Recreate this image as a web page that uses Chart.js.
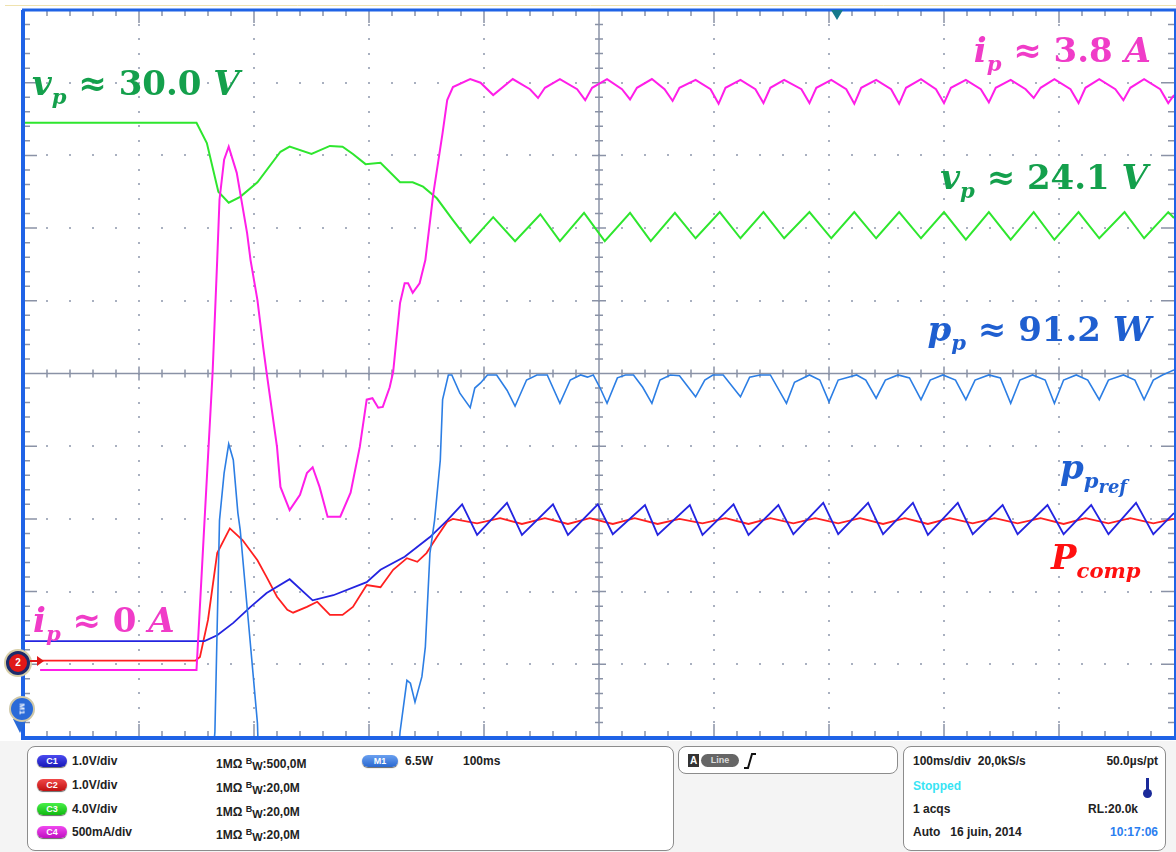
<!DOCTYPE html>
<html>
<head>
<meta charset="utf-8">
<script src="https://cdn.jsdelivr.net/npm/chart.js@4"></script>
<style>
  body { margin: 0; width: 1176px; height: 852px; overflow: hidden; position: relative; background: #fff;
         font-family: "Liberation Sans", Arial, sans-serif; }
  #wrap { position: absolute; left: 0; top: 0; width: 1176px; height: 742px; }
  .lbl { position: absolute; font-family: "DejaVu Serif", serif; font-weight: bold; font-size: 34px;
         white-space: nowrap; line-height: 1; }
  .lbl i { font-style: italic; }
  .lbl sub { font-size: 0.62em; vertical-align: -0.42em; font-style: italic; line-height: 0; }
  .lbl sub sub { font-size: 0.85em; vertical-align: -0.3em; }
  #panel { position: absolute; left: 0; top: 741px; width: 1176px; height: 111px; background: #f4f4f4; }
  .box { position: absolute; border: 1.5px solid #8c8c8c; border-radius: 8px; background: #fff; box-sizing: border-box; }
  .t { position: absolute; font-size: 12px; font-weight: bold; color: #222; white-space: nowrap; line-height: 14px; }
  .badge { position: absolute; height: 12px; border-radius: 6px; color: #fff; font-size: 9px; font-weight: bold;
           text-align: center; line-height: 12px; box-shadow: 0 1px 1px #666; }
  .bw { font-size: 9px; vertical-align: 4px; }
  .bws { font-size: 11px; vertical-align: -2px; }
</style>
</head>
<body>
<div id="wrap"><canvas id="scope"></canvas></div>

<!-- channel annotations -->
<div class="lbl" style="left:32px;top:66px;color:#14a04c"><i>v</i><sub>p</sub> &#8776; 30.0 <i>V</i></div>
<div class="lbl" style="right:25px;top:33px;color:#f03cc8"><i>i</i><sub>p</sub> &#8776; 3.8 <i>A</i></div>
<div class="lbl" style="right:28px;top:160px;color:#14a04c"><i>v</i><sub>p</sub> &#8776; 24.1 <i>V</i></div>
<div class="lbl" style="right:25px;top:312px;color:#1f5fd0"><i>p</i><sub>p</sub> &#8776; 91.2 <i>W</i></div>
<div class="lbl" style="left:1060px;top:450px;color:#1f5fd0"><i>p</i><sub>p<sub>ref</sub></sub></div>
<div class="lbl" style="left:1051px;top:540px;color:#ff1010"><i>P</i><sub>comp</sub></div>
<div class="lbl" style="left:33px;top:603px;color:#f03cc8"><i>i</i><sub>p</sub> &#8776; 0 <i>A</i></div>

<!-- left markers -->
<div style="position:absolute;left:4px;top:649px;width:28px;height:28px;border-radius:50%;background:#d8cfa8"></div>
<div style="position:absolute;left:6px;top:651px;width:18px;height:18px;border-radius:50%;background:#e01818;border:3px solid #1c2c6c;color:#fff;font:bold 10px 'Liberation Sans';text-align:center;line-height:18px">2</div>
<div style="position:absolute;left:30px;top:660px;width:8px;height:2px;background:#e01818"></div>
<div style="position:absolute;left:37px;top:656px;width:0;height:0;border-top:5px solid transparent;border-bottom:5px solid transparent;border-left:7px solid #e01818"></div>
<div style="position:absolute;left:13px;top:719px;width:0;height:0;border-left:7px solid transparent;border-right:7px solid transparent;border-top:14px solid #2a6ad8"></div>
<div style="position:absolute;left:9px;top:696px;width:22px;height:22px;border-radius:50%;background:#2a6ad8;border:2px solid #cfc8a8;color:#fff;font:bold 8px 'Liberation Sans';text-align:center;line-height:22px"><span style="display:inline-block;transform:rotate(90deg)">M1</span></div>
<div style="position:absolute;left:831px;top:10px;width:0;height:0;border-left:6px solid transparent;border-right:6px solid transparent;border-top:10px solid #167a8c"></div>

<!-- status panel -->
<div id="panel"></div>
<div class="box" style="left:27px;top:746px;width:647px;height:105px"></div>
<div class="box" style="left:678px;top:746px;width:220px;height:28px"></div>
<div class="box" style="left:903px;top:746px;width:263px;height:105px"></div>

<div class="badge" style="left:37px;top:755px;width:30px;background:linear-gradient(#4a4af0,#1818b8)">C1</div>
<div class="badge" style="left:37px;top:779px;width:30px;background:linear-gradient(#f04848,#c01010)">C2</div>
<div class="badge" style="left:37px;top:803px;width:30px;background:linear-gradient(#48f048,#10b810)">C3</div>
<div class="badge" style="left:37px;top:826px;width:30px;background:linear-gradient(#f048f0,#c010c0)">C4</div>
<div class="t" style="left:72px;top:754px">1.0V/div</div>
<div class="t" style="left:72px;top:778px">1.0V/div</div>
<div class="t" style="left:72px;top:802px">4.0V/div</div>
<div class="t" style="left:72px;top:825px">500mA/div</div>
<div class="t" style="left:216px;top:754px">1M&#937; <span class="bw">B</span><span class="bws">W</span>:500,0M</div>
<div class="t" style="left:216px;top:778px">1M&#937; <span class="bw">B</span><span class="bws">W</span>:20,0M</div>
<div class="t" style="left:216px;top:802px">1M&#937; <span class="bw">B</span><span class="bws">W</span>:20,0M</div>
<div class="t" style="left:216px;top:825px">1M&#937; <span class="bw">B</span><span class="bws">W</span>:20,0M</div>
<div class="badge" style="left:362px;top:755px;width:36px;background:linear-gradient(#6aa0f0,#2a68d0)">M1</div>
<div class="t" style="left:405px;top:754px">6.5W</div>
<div class="t" style="left:463px;top:754px">100ms</div>

<div style="position:absolute;left:688px;top:754px;width:11px;height:13px;background:#333;color:#fff;font:bold 10px 'Liberation Sans';text-align:center;line-height:13px">A</div>
<div style="position:absolute;left:701px;top:754px;width:38px;height:13px;border-radius:7px;background:#666;color:#ddd;font:bold 9px 'Liberation Sans';text-align:center;line-height:13px">Line</div>
<svg style="position:absolute;left:742px;top:752px" width="16" height="18"><path d="M2 16 L6 16 L10 2 L14 2" stroke="#111" stroke-width="2" fill="none"/></svg>

<div class="t" style="left:913px;top:754px">100ms/div&nbsp; 20,0kS/s</div>
<div class="t" style="right:18px;top:754px">50.0&#181;s/pt</div>
<div class="t" style="left:913px;top:779px;color:#38e4f4">Stopped</div>
<div style="position:absolute;left:1146px;top:778px;width:3px;height:14px;background:#1a2a9a"></div>
<div style="position:absolute;left:1143px;top:789px;width:9px;height:9px;border-radius:50%;background:#1a2a9a"></div>
<div class="t" style="left:913px;top:802px">1 acqs</div>
<div class="t" style="left:1088px;top:802px">RL:20.0k</div>
<div class="t" style="left:913px;top:825px">Auto&nbsp;&nbsp; 16 juin, 2014</div>
<div class="t" style="right:18px;top:825px;color:#2a7ef0">10:17:06</div>

<script>
// time axis: 100 ms/div, 10 divisions; vertical values in screen divisions (0 = bottom, 10 = top)
// v_p (C3, green)
const vpTime = [0,150,159,169,178,188,203,223,231,250, 266,277,286,297,310,327,338,347,359,373,
  388,408,427,449,466,487,505,527,545,566, 584,605,623,643,661,683,702,722,741,761,
  780,800,819,839,858,878,896,917,935,957, 974,995,1000];
const vpDiv = [8.45,8.45,8.17,7.50,7.35,7.43,7.63,8.05,8.12,8.02, 8.13,8.12,8.02,7.88,7.90,7.63,7.63,7.57,7.41,7.11,
  6.80,7.15,6.82,7.19,6.82,7.21,6.82,7.21,6.82,7.21, 6.86,7.22,6.86,7.22,6.86,7.22,6.86,7.22,6.86,7.22,
  6.86,7.22,6.84,7.22,6.84,7.22,6.84,7.22,6.86,7.22, 6.86,7.22,7.14];

// i_p (C4, magenta)
const ipTime = [14,150,157,164,168,170,174,178,185,194, 197,203,208,211,220,223,231,240,246,251,
  257,264,275,284,292,298,303,308,312,318, 321,327,331,334,338,344,349,356,364,368,
  373,388,397,408,425,440,447,453,466,481, 488,494,507,520,527,533,546,557,564,570,
  584,597,604,610,623,636,643,649,661,676, 683,689,702,715,722,728,741,754,761,767,
  780,793,800,806,819,832,839,845,858,871, 878,884,896,910,917,923,935,949,956,962,
  974,988,995,1000];
const ipDiv = [0.92,0.92,2.98,5.01,6.56,7.39,7.94,8.12,7.76,6.93, 6.56,6.01,5.36,5.01,3.99,3.44,3.12,3.33,3.63,3.71,
  3.44,3.03,3.03,3.36,3.99,4.64,4.66,4.53,4.54,4.81, 5.02,5.97,6.24,6.24,6.11,6.24,6.56,7.48,8.31,8.76,
  8.94,9.05,9.00,8.83,9.05,8.91,8.79,8.93,9.05,8.91, 8.76,8.93,9.05,8.91,8.77,8.93,9.05,8.91,8.75,8.93,
  9.04,8.91,8.71,8.93,9.04,8.91,8.72,8.93,9.04,8.91, 8.72,8.93,9.04,8.91,8.71,8.93,9.04,8.91,8.71,8.93,
  9.05,8.91,8.72,8.93,9.04,8.91,8.73,8.93,9.04,8.91, 8.79,8.93,9.05,8.91,8.72,8.93,9.05,8.91,8.76,8.93,
  9.05,8.91,8.72,8.83];

// p_p (M1, light blue) - below the screen before the transient
const ppTime = [0,164,166,170,174,178,182,186,188,195, 203,204,325,327,333,336,340,346,349,353,
  357,362,364,369,372,379,388,392,397,403, 411,420,427,437,446,455,466,475,484,490,
  495,501,507,516,523,530,538,546,553,562, 570,584,592,599,608,623,631,640,649,663,
  670,683,692,700,708,724,732,741,749,760, 770,780,788,799,810,819,827,839,849,858,
  866,877,888,896,904,915,925,935,943,956, 966,974,982,990,1000];
const ppDiv = [-0.32,-0.32,0.07,2.98,3.63,4.03,3.81,3.08,2.85,1.61, 0.19,-0.32,-0.32,0.07,0.78,0.74,0.48,0.83,1.24,2.53,
  2.98,3.81,4.64,4.98,4.98,4.73,4.53,4.80,4.87,4.98, 4.98,4.77,4.55,4.91,4.98,4.98,4.59,4.91,4.98,4.95,
  4.98,4.80,4.59,4.94,4.98,4.98,4.81,4.59,4.91,4.98, 4.97,4.68,4.91,4.98,4.98,4.68,4.95,4.98,4.98,4.59,
  4.88,4.98,4.91,4.61,4.91,4.98,4.91,4.66,4.91,4.98, 4.94,4.64,4.91,4.98,4.91,4.64,4.91,4.98,4.94,4.59,
  4.91,4.98,4.91,4.59,4.91,4.98,4.91,4.64,4.91,4.98, 4.91,4.64,4.91,4.98,5.05];

// p_p_ref (C1, dark blue)
const prefTime = [0,157,168,182,197,211,231,251,269,298, 310,331,353,368,381,394,420,433,460,473,
  499,512,540,551,579,590,617,630,656,669, 695,708,734,747,773,786,812,825,851,864,
  890,904,928,943,967,982,1000];
const prefDiv = [1.32,1.32,1.40,1.57,1.79,1.98,2.17,1.88,1.95,2.13, 2.30,2.48,2.75,2.98,3.20,2.78,3.22,2.78,3.20,2.78,
  3.20,2.79,3.19,2.78,3.19,2.78,3.20,2.78,3.19,2.79, 3.22,2.79,3.22,2.79,3.22,2.78,3.22,2.79,3.19,2.79,
  3.19,2.79,3.19,2.79,3.22,2.79,3.08];

// P_comp (C2, red)
const pcTime = [14,149,153,160,168,179,190,203,211,220, 229,234,246,255,266,277,286,298,310,321,
  333,342,350,359,368,373,394,414,433,453, 473,492,512,531,551,570,590,610,630,649,
  669,688,708,727,747,766,786,805,825,844, 864,884,904,923,943,962,982,1000];
const pcDiv = [1.05,1.05,1.10,1.61,2.53,2.87,2.71,2.43,2.20,1.93, 1.75,1.71,1.79,1.86,1.68,1.68,1.79,2.09,2.06,2.30,
  2.46,2.41,2.53,2.75,2.96,3.00,2.94,3.01,2.93,3.01, 2.93,3.01,2.93,3.01,2.93,3.00,2.94,3.01,2.93,3.01,
  2.94,3.01,2.94,3.01,2.93,3.01,2.93,3.01,2.94,3.01, 2.94,3.01,2.93,3.01,2.94,3.01,2.94,3.00];

const pts = (ts, vs) => ts.map((t, i) => ({ x: t, y: vs[i] }));

// graticule: dotted divisions, centre cross and border ticks
const graticule = {
  id: 'graticule',
  beforeDatasetsDraw(chart) {
    const { ctx, chartArea: a, scales: { x, y } } = chart;
    ctx.save();
    ctx.fillStyle = '#a9b0c0';
    for (let i = 1; i < 10; i++) {
      if (i === 5) continue;
      const px = Math.round(x.getPixelForValue(i * 100));
      for (let k = 1; k < 50; k++) ctx.fillRect(px - 1, Math.round(y.getPixelForValue(k * 0.2)) - 1, 2, 2);
      const py = Math.round(y.getPixelForValue(i));
      for (let k = 1; k < 50; k++) ctx.fillRect(Math.round(x.getPixelForValue(k * 20)) - 1, py - 1, 2, 2);
    }
    ctx.strokeStyle = '#8a92a6';
    ctx.lineWidth = 1.5;
    const cx = x.getPixelForValue(500), cy = y.getPixelForValue(5);
    ctx.beginPath();
    ctx.moveTo(cx, a.top); ctx.lineTo(cx, a.bottom);
    ctx.moveTo(a.left, cy); ctx.lineTo(a.right, cy);
    for (let k = 1; k < 50; k++) {
      const major = k % 5 === 0;
      const px = x.getPixelForValue(k * 20);
      const py = y.getPixelForValue(k * 0.2);
      const c = major ? 7 : 4, b = major ? 13 : 6;
      ctx.moveTo(px, cy - c); ctx.lineTo(px, cy + c);
      ctx.moveTo(cx - c, py); ctx.lineTo(cx + c, py);
      ctx.moveTo(px, a.top); ctx.lineTo(px, a.top + b);
      ctx.moveTo(px, a.bottom); ctx.lineTo(px, a.bottom - b);
      ctx.moveTo(a.left, py); ctx.lineTo(a.left + b, py);
      ctx.moveTo(a.right, py); ctx.lineTo(a.right - b, py);
    }
    ctx.stroke();
    ctx.restore();
  },
  afterDraw(chart) {
    const { ctx, chartArea: a } = chart;
    ctx.save();
    ctx.strokeStyle = '#efe2ae';
    ctx.lineWidth = 1;
    ctx.beginPath(); ctx.moveTo(5, a.top - 4.5); ctx.lineTo(a.right + 2, a.top - 4.5); ctx.stroke();
    ctx.strokeStyle = '#1f63e6';
    ctx.lineWidth = 3;
    ctx.beginPath(); ctx.moveTo(a.left - 2, a.top); ctx.lineTo(a.right + 2, a.top); ctx.stroke();
    ctx.lineWidth = 4;
    ctx.beginPath(); ctx.moveTo(a.left - 1, a.top); ctx.lineTo(a.left - 1, a.bottom + 2);
    ctx.moveTo(a.left - 3, a.bottom + 1); ctx.lineTo(a.right + 2, a.bottom + 1); ctx.stroke();
    ctx.lineWidth = 2;
    ctx.beginPath(); ctx.moveTo(a.right + 1, a.top); ctx.lineTo(a.right + 1, a.bottom); ctx.stroke();
    ctx.restore();
  }
};

const line = (label, data, color, width) => ({
  label, data, borderColor: color, borderWidth: width, pointRadius: 0, tension: 0, fill: false
});

new Chart(document.getElementById('scope'), {
  type: 'line',
  data: {
    datasets: [
      line('i_p', pts(ipTime, ipDiv), '#ff1ee8', 2),
      line('p_p', pts(ppTime, ppDiv), '#2c7ee4', 1.6),
      line('v_p', pts(vpTime, vpDiv), '#2ee62e', 2),
      line('p_p_ref', pts(prefTime, prefDiv), '#2424e0', 1.8),
      line('P_comp', pts(pcTime, pcDiv), '#ff2020', 1.8)
    ]
  },
  options: {
    responsive: true,
    maintainAspectRatio: false,
    animation: false,
    events: [],
    layout: { padding: { left: 24, right: 2, top: 10, bottom: 5 } },
    plugins: { legend: { display: false }, tooltip: { enabled: false } },
    scales: {
      x: { type: 'linear', min: 0, max: 1000, display: false },
      y: { type: 'linear', min: 0, max: 10, display: false }
    }
  },
  plugins: [graticule]
});
</script>
</body>
</html>
